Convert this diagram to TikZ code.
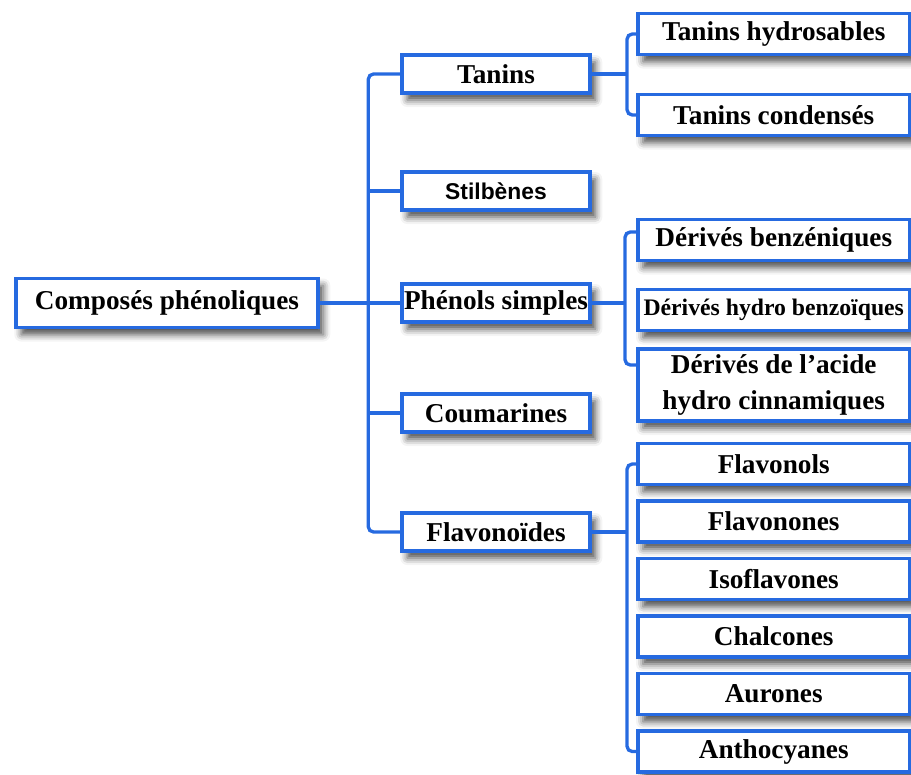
\documentclass[tikz,border=0pt]{standalone}
\usepackage{fontspec}
\setmainfont{Liberation Serif}
\newfontfamily\arialfont{Liberation Sans}
\usepackage{tikz}
\usetikzlibrary{positioning,calc,shadows.blur}
\definecolor{boxblue}{RGB}{38,106,224}

\begin{document}
\begin{tikzpicture}[
        x=0.02cm, y=-0.02cm,
        font=\bfseries\fontsize{15.5}{20}\selectfont,
        box/.style={
            draw=boxblue,
            line width=2pt,
            fill=white,
            align=center,
            inner sep=1pt,
            blur shadow={shadow xshift=3pt, shadow yshift=-4pt,
                shadow blur radius=4pt, shadow opacity=70}
        },
        rootbox/.style={
            box,
            minimum width=6.04cm,
            minimum height=0.98cm
        },
        catbox/.style={
            box,
            minimum width=3.76cm,
            minimum height=0.76cm
        },
        subbox/.style={
            box,
            anchor=west,
            minimum width=5.44cm,
            minimum height=0.82cm
        },
        link/.style={
            draw=boxblue,
            line width=1.9pt,
            rounded corners=3pt
        }
    ]
    \useasboundingbox (0,0) rectangle (911,774);

    % =========================
    % Root and classes
    % =========================
    \node[rootbox] (root) at (167,303) {Composés phénoliques};

    \node[catbox] (tan) at (496,74) {Tanins};
    \node[catbox, font=\arialfont\bfseries\fontsize{13}{16}\selectfont] (stil) at (496,191) {Stilbènes};
    \node[catbox] (phen) at (496,303) {Phénols simples};
    \node[catbox] (cou) at (496,413) {Coumarines};
    \node[catbox] (flav) at (496,532) {Flavonoïdes};

    % =========================
    % Sub-classes
    % =========================
    \node[subbox] (th) at (636,34) {Tanins hydrosables};
    \node[subbox] (tc) at (636,115) {Tanins condensés};

    \node[subbox] (db) at (636,240) {Dérivés benzéniques};
    \node[subbox, font=\bfseries\fontsize{13.5}{16}\selectfont] (dh) at (636,310) {Dérivés hydro benzoïques};
    \node[subbox, minimum height=1.44cm] (da) at (636,385) {Dérivés de l’acide\\hydro cinnamiques};

    \node[subbox] (fl1) at (636,464) {Flavonols};
    \node[subbox, below=0.26cm of fl1.south west, anchor=north west] (fl2) {Flavonones};
    \node[subbox, below=0.26cm of fl2.south west, anchor=north west] (fl3) {Isoflavones};
    \node[subbox, below=0.26cm of fl3.south west, anchor=north west] (fl4) {Chalcones};
    \node[subbox, below=0.26cm of fl4.south west, anchor=north west] (fl5) {Aurones};
    \node[subbox, below=0.26cm of fl5.south west, anchor=north west] (fl6) {Anthocyanes};

    % =========================
    % Connectors
    % =========================
    \coordinate (trunk) at ($(tan.west)+(-32,0)$);
    \draw[link] (tan.west) -- (trunk) |- (flav.west);
    \foreach \n in {stil,phen,cou}
        \draw[link] (\n.west) -- (\n.west -| trunk);
    \draw[link] (root.east) -- (phen.west);

    \coordinate (tb) at ($(th.west)+(-9,0)$);
    \draw[link] (th.west) -- (tb) |- (tc.west);
    \draw[link] (tan.east) -- (tan.east -| tb);

    \coordinate (pb) at ($(db.west)+(-11,-8)$);
    \draw[link] ($(db.west)+(0,-8)$) -- (pb) |- ($(da.west)+(0,-20)$);
    \draw[link] (phen.east) -- (phen.east -| pb);

    \coordinate (fb) at ($(fl1.west)+(-9,0)$);
    \draw[link] (fl1.west) -- (fb) |- (fl6.west);
    \draw[link] (flav.east) -- (flav.east -| fb);

\end{tikzpicture}
\end{document}
